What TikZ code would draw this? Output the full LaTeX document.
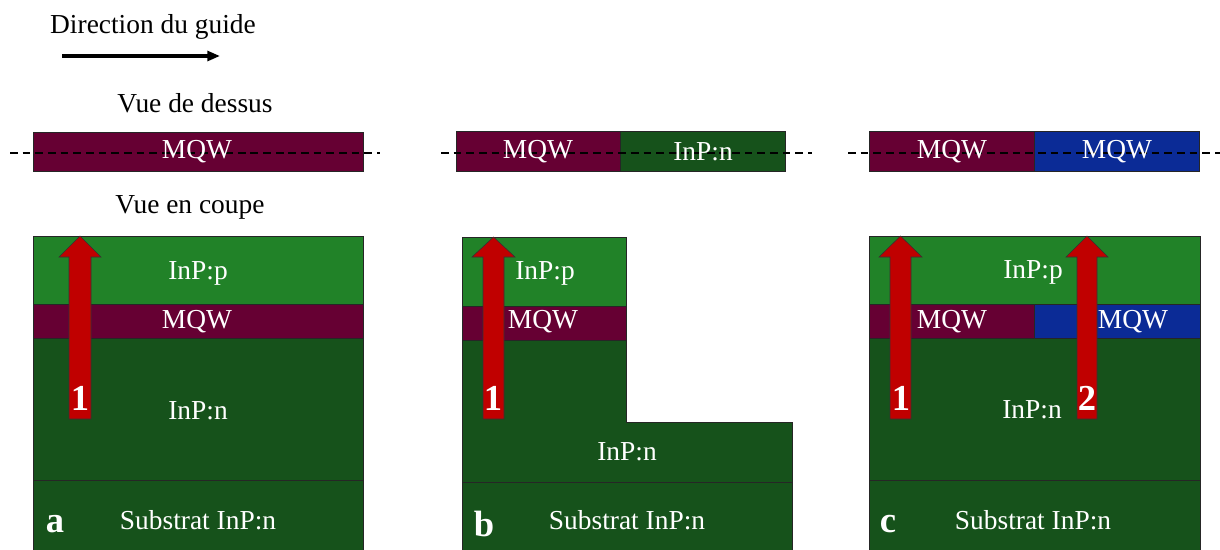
\documentclass[tikz,border=0pt]{standalone}
\usepackage{fontspec}
\setmainfont{Liberation Serif}
\usetikzlibrary{calc, arrows.meta}
\definecolor{inpp}{RGB}{33,130,40}
\definecolor{inpn}{RGB}{22,82,27}
\definecolor{mqwr}{RGB}{102,0,51}
\definecolor{mqwb}{RGB}{11,43,150}
\definecolor{rouge}{RGB}{192,0,0}

\begin{document}
\begin{tikzpicture}
      [x=0.025cm,y=-0.025cm
      ,lay/.style={draw=black!85,line width=.6pt}
      ,pp/.style={lay,fill=inpp}
      ,nn/.style={lay,fill=inpn}
      ,qr/.style={lay,fill=mqwr}
      ,qb/.style={lay,fill=mqwb}
      ,txt/.style={font=\fontsize{19.5}{22}\selectfont,inner sep=0pt}
      ,wtxt/.style={txt,text=white}
      ,num/.style={font=\fontsize{26}{28}\selectfont\bfseries,text=white,inner sep=0pt}
      ,fleche/.style={draw=black!80,fill=rouge,thin}
      ,axe/.style={dash pattern=on 5.5pt off 3.5pt,line width=.9pt}
      ]
        \useasboundingbox (0,0) rectangle (1220,549);

        % titres
        \node[txt] (dir) at (153,27) {Direction du guide};
        \coordinate (d1) at (62,56);
        \coordinate (d2) at (220,56);
        \draw[line width=2.2pt,-{Triangle[length=9pt,width=7pt]}] (d1) -- (d2);
        \node[txt] (dessus) at (195,103) {Vue de dessus};
        \node[txt] (coupe) at (190,207) {Vue en coupe};

        % vue de dessus
        \filldraw[qr] (33,132) rectangle (363,171);
        \filldraw[qr] (456,131) rectangle (620,171);
        \filldraw[nn] (620,131) rectangle (785,171);
        \filldraw[qr] (869,131) rectangle (1034,171);
        \filldraw[qb] (1034,131) rectangle (1199,171);
        \foreach \xa/\xb in {10/380, 441/812, 848/1220}
            \draw[axe] (\xa,153) -- (\xb,153);
        \node[wtxt] (ta) at (197,152) {MQW};
        \node[wtxt] (tb1) at (538,152) {MQW};
        \node[wtxt] (tb2) at (703,152) {InP:n};
        \node[wtxt] (tc1) at (952,152) {MQW};
        \node[wtxt] (tc2) at (1117,152) {MQW};

        % coupe a
        \filldraw[pp] (33,236) rectangle (363,304);
        \filldraw[qr] (33,304) rectangle (363,338);
        \filldraw[nn] (33,338) rectangle (363,480);
        \filldraw[nn] (33,480) rectangle (363,550);

        % coupe b
        \filldraw[pp] (462,237) rectangle (626,306);
        \filldraw[qr] (462,306) rectangle (626,340);
        \filldraw[nn] (462,340) -- (626,340) -- (626,422) -- (792,422) -- (792,482) -- (462,482) -- cycle;
        \filldraw[nn] (462,482) rectangle (792,550);

        % coupe c
        \filldraw[pp] (869,236) rectangle (1200,304);
        \filldraw[qr] (869,304) rectangle (1034,338);
        \filldraw[qb] (1034,304) rectangle (1200,338);
        \filldraw[nn] (869,338) rectangle (1200,480);
        \filldraw[nn] (869,480) rectangle (1200,550);

        % textes des couches
        \node[wtxt] (pa) at (198,273) {InP:p};
        \node[wtxt] (qa) at (197,322) {MQW};
        \node[wtxt] (na) at (198,411) {InP:n};
        \node[wtxt] (sa) at (198,520) {Substrat InP:n};
        \node[wtxt] (pb) at (545,273) {InP:p};
        \node[wtxt] (qb) at (543,322) {MQW};
        \node[wtxt] (nb) at (627,452) {InP:n};
        \node[wtxt] (sb) at (627,520) {Substrat InP:n};
        \node[wtxt] (pc) at (1033,272) {InP:p};
        \node[wtxt] (qc1) at (952,322) {MQW};
        \node[wtxt] (qc2) at (1133,322) {MQW};
        \node[wtxt] (nc) at (1032,410) {InP:n};
        \node[wtxt] (sc) at (1033,520) {Substrat InP:n};

        % fleches rouges
        \foreach \xa/\xb/\ha/\hb/\yt in {69/91/59/101/236, 483/504/472/515/237, 890/911/879/922/236, 1077/1097/1066/1108/236}
        {
            \filldraw[fleche] (\xa,419) -- (\xa,257) -- (\ha,257) -- ({(\xa+\xb)/2},\yt) -- (\hb,257) -- (\xb,257) -- (\xb,419) -- cycle;
        }
        \node[num] (n1a) at (80,398) {1};
        \node[num] (n1b) at (493,398) {1};
        \node[num] (n1c) at (901,398) {1};
        \node[num] (n2c) at (1087,398) {2};

        \node[num] (la) at (55,524) {a};
        \node[num] (lb) at (484,524) {b};
        \node[num] (lc) at (888,524) {c};

       \end{tikzpicture}
\end{document}
